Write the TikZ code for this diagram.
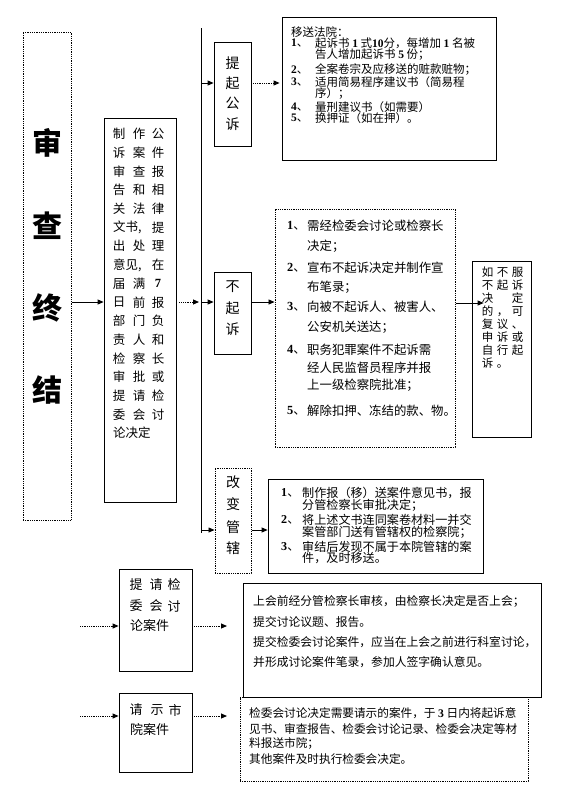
\documentclass[tikz,border=0pt]{standalone}
\usepackage{fontspec}
\setmainfont{Noto Sans CJK SC}
\newfontfamily\numfont{Liberation Serif}
\usetikzlibrary{arrows.meta}
\newcommand\NumB[1]{{\numfont\bfseries #1}}
\newcommand\fsz[1]{\fontsize{#1}{#1}\selectfont}
\tikzset{
  box/.style={draw, line width=0.8pt, inner sep=0pt, rectangle},
  dbox/.style={box, densely dotted, line width=1pt},
  tx/.style={anchor=west, inner sep=0pt},
  ch/.style={anchor=center, inner sep=0pt},
  rbch/.style={ch, font=\fsz{11.5}, text height=9.5pt, text depth=1.5pt},
  arr/.style={-{Triangle[length=6pt,width=5pt]}, line width=0.8pt},
  darr/.style={arr, densely dotted, line width=1pt},
}
\begin{document}
\begin{tikzpicture}[x=1pt,y=-1pt]
\fill[white] (0,0) rectangle (586,806);
\useasboundingbox (0,0) rectangle (586,806);

% ---------- boxes ----------
\node[dbox, minimum width=48pt,  minimum height=488pt] (L)   at (47,276) {};
\node[box,  minimum width=72pt,  minimum height=384pt] (M)   at (140,310) {};
\node[box,  minimum width=37pt,  minimum height=104pt] (TQ)  at (232.5,94) {};
\node[box,  minimum width=214pt, minimum height=143pt] (YS)  at (389,88.5) {};
\node[box,  minimum width=37pt,  minimum height=82pt]  (BQ)  at (232.5,313) {};
\node[dbox, minimum width=180pt, minimum height=238pt] (BQL) at (365,328) {};
\node[box,  minimum width=59pt,  minimum height=176pt] (RB)  at (501.5,349) {};
\node[dbox, minimum width=36pt,  minimum height=105pt] (GB)  at (233,520.5) {};
\node[box,  minimum width=215pt, minimum height=94pt]  (GBL) at (375.5,526) {};
\node[box,  minimum width=73pt,  minimum height=102pt] (TJ)  at (155.5,620) {};
\node[box,  minimum width=298pt, minimum height=114pt] (TJL) at (392,640) {};
\node[box,  minimum width=73pt,  minimum height=79pt]  (QS)  at (155.5,732.5) {};
\node[dbox, minimum width=288pt, minimum height=84pt]  (QSL) at (384,739) {};

% ---------- left title ----------
\foreach \y/\c [count=\i] in {143/审,226/查,308/终,390/结}
  \node[ch, font=\fsz{30}\bfseries] (Lt\i) at (47,\y) {\c};

% ---------- middle box text ----------
\foreach \k/\a/\b/\c in {0/制/作/公,1/诉/案/件,2/审/查/报,3/告/和/相,4/关/法/律,6/出/处/理,8/届/满/\NumB{7},9/日/前/报,10/部/门/负,11/责/人/和,12/检/察/长,13/审/批/或,14/提/请/检,15/委/会/讨}{
  \node[ch, font=\fsz{12.5}] (m\k-a) at (119,134+18.7*\k) {\a};
  \node[ch, font=\fsz{12.5}] (m\k-b) at (139,134+18.7*\k) {\b};
  \node[ch, font=\fsz{12.5}] (m\k-c) at (158,134+18.7*\k) {\c};
}
\node[tx, font=\fsz{12.5}] (m5-a)  at (113,134+18.7*5) {文书,};
\node[ch, font=\fsz{12.5}] (m5-c)  at (158,134+18.7*5) {提};
\node[tx, font=\fsz{12.5}] (m7-a)  at (113,134+18.7*7) {意见,};
\node[ch, font=\fsz{12.5}] (m7-c)  at (158,134+18.7*7) {在};
\node[tx, font=\fsz{12.5}] (m16-a) at (113,134+18.7*16) {论决定};

% ---------- short vertical boxes ----------
\foreach \y/\c [count=\i] in {63/提,83/起,103/公,124/诉}
  \node[ch, font=\fsz{14}] (TQ\i) at (232.5,\y) {\c};
\foreach \y/\c [count=\i] in {287/不,308/起,329/诉}
  \node[ch, font=\fsz{14}] (BQ\i) at (232.5,\y) {\c};
\foreach \y/\c [count=\i] in {482/改,504/变,527/管,548/辖}
  \node[ch, font=\fsz{14}] (GB\i) at (233,\y) {\c};

% ---------- 移送法院 ----------
\node[tx, font=\fsz{11.5}] (ys0) at (291,32) {移送法院：};
\foreach \y/\n [count=\i] in {43/1,70/2,82/3,107/4,118/5}
  \node[tx, font=\fsz{11.5}] (ysn\i) at (291,\y) {\NumB{\n}、};
\foreach \y/\t [count=\i] in {
  43/起诉书 \NumB{1} 式\NumB{10}分，每增加 \NumB{1} 名被,
  55/告人增加起诉书 \NumB{5} 份；,
  70/全案卷宗及应移送的赃款赃物；,
  82/适用简易程序建议书（简易程,
  94/序）；,
  107/量刑建议书（如需要）,
  118/换押证（如在押）。}
  \node[tx, font=\fsz{11.5}] (yst\i) at (315,\y) {\t};

% ---------- 不起诉 list ----------
\foreach \y/\n [count=\i] in {226/1,268/2,307/3,350/4,411/5}
  \node[tx, font=\fsz{12.4}] (bqn\i) at (287,\y) {\NumB{\n}、};
\foreach \y/\t [count=\i] in {
  226/需经检委会讨论或检察长,
  246/决定；,
  268/宣布不起诉决定并制作宣,
  287/布笔录；,
  307/向被不起诉人、被害人、,
  327/公安机关送达；,
  350/职务犯罪案件不起诉需,
  368/经人民监督员程序并报,
  385/上一级检察院批准；,
  411/解除扣押、冻结的款、物。}
  \node[tx, font=\fsz{12.4}] (bqt\i) at (307,\y) {\t};

% ---------- 如不服 ----------
\node[rbch] (rb0a) at (487.5,272) {如};
\node[rbch] (rb0b) at (502.5,272) {不};
\node[rbch] (rb0c) at (517.5,272) {服};
\node[rbch] (rb1a) at (487.5,285) {不};
\node[rbch] (rb1b) at (502.5,285) {起};
\node[rbch] (rb1c) at (517.5,285) {诉};
\node[rbch] (rb2a) at (487.5,298) {决};
\node[rbch] (rb2c) at (517.5,298) {定};
\node[rbch] (rb3a) at (487.5,311) {的};
\node[rbch] (rb3b) at (502.5,311) {，};
\node[rbch] (rb3c) at (517.5,311) {可};
\node[rbch] (rb4a) at (487.5,324) {复};
\node[rbch] (rb4b) at (502.5,324) {议};
\node[rbch] (rb4c) at (517.5,324) {、};
\node[rbch] (rb5a) at (487.5,337) {申};
\node[rbch] (rb5b) at (502.5,337) {诉};
\node[rbch] (rb5c) at (517.5,337) {或};
\node[rbch] (rb6a) at (487.5,350) {自};
\node[rbch] (rb6b) at (502.5,350) {行};
\node[rbch] (rb6c) at (517.5,350) {起};
\node[rbch] (rb7a) at (487.5,363) {诉};
\node[rbch] (rb7b) at (502.5,363) {。};

% ---------- 改变管辖 list ----------
\foreach \y/\n [count=\i] in {493/1,520/2,547/3}
  \node[tx, font=\fsz{12.1}] (gbn\i) at (281,\y) {\NumB{\n}、};
\foreach \y/\t [count=\i] in {
  493/制作报（移）送案件意见书，报,
  505/分管检察长审批决定；,
  520/将上述文书连同案卷材料一并交,
  532/案管部门送有管辖权的检察院；,
  547/审结后发现不属于本院管辖的案,
  558/件，及时移送。}
  \node[tx, font=\fsz{12.1}] (gbt\i) at (302,\y) {\t};

% ---------- 提请检委会讨论案件 ----------
\node[ch, font=\fsz{13}] (tj1) at (136,585) {提};
\node[ch, font=\fsz{13}] (tj2) at (156,585) {请};
\node[ch, font=\fsz{13}] (tj3) at (174,585) {检};
\node[ch, font=\fsz{13}] (tj4) at (136,606) {委};
\node[ch, font=\fsz{13}] (tj5) at (156,606) {会};
\node[ch, font=\fsz{13}] (tj6) at (174,606) {讨};
\node[tx, font=\fsz{13}] (tj7) at (130,626) {论案件};
\foreach \y/\t [count=\i] in {
  601/上会前经分管检察长审核，由检察长决定是否上会；,
  622/提交讨论议题、报告。,
  642/提交检委会讨论案件，应当在上会之前进行科室讨论，,
  662/并形成讨论案件笔录，参加人签字确认意见。}
  \node[tx, font=\fsz{11.8}] (tjt\i) at (253,\y) {\t};

% ---------- 请示市院案件 ----------
\node[ch, font=\fsz{13}] (qs1) at (136,710) {请};
\node[ch, font=\fsz{13}] (qs2) at (157,710) {示};
\node[ch, font=\fsz{13}] (qs3) at (175,710) {市};
\node[tx, font=\fsz{13}] (qs4) at (130,729) {院案件};
\foreach \y/\t [count=\i] in {
  713/检委会讨论决定需要请示的案件，于 \NumB{3} 日内将起诉意,
  729/见书、审查报告、检委会讨论记录、检委会决定等材,
  743/料报送市院；,
  759/其他案件及时执行检委会决定。}
  \node[tx, font=\fsz{11.65}] (qst\i) at (249,\y) {\t};

% ---------- connectors ----------
\coordinate (vtop) at (201,28);
\coordinate (vbot) at (201,533);
\coordinate (r83)  at (0,83);
\coordinate (r302) at (0,302);
\coordinate (r303) at (0,303);
\coordinate (r530) at (0,530);
\coordinate (r626) at (0,626);
\coordinate (r716) at (0,716);
\coordinate (s1) at (80,626);
\coordinate (e1) at (227,626);
\coordinate (s2) at (80,716);
\coordinate (e2) at (227,716);

\draw[line width=0.8pt] (vtop) -- (vbot);
\draw[arr]  (L.east |- r302) -- (M.west |- r302);
\draw[darr] ([xshift=3pt]M.east |- r302) -- ([xshift=-2pt]vbot |- r302);
\draw[arr]  (vbot |- r83) -- (TQ.west |- r83);
\draw[darr] (TQ.east |- r83) -- ([xshift=-2pt]YS.west |- r83);
\draw[arr]  (vbot |- r302) -- (BQ.west |- r302);
\draw[arr]  (BQ.east |- r302) -- (BQL.west |- r302);
\draw[arr]  (BQL.east |- r303) -- ([xshift=12pt]RB.west |- r303);
\draw[arr]  (vbot |- r530) -- (GB.west |- r530);
\draw[arr]  (GB.east |- r530) -- (GBL.west |- r530);
\draw[darr] (s1) -- (TJ.west |- r626);
\draw[darr] (TJ.east |- r626) -- (e1);
\draw[darr] (s2) -- (QS.west |- r716);
\draw[darr] (QS.east |- r716) -- (e2);
\end{tikzpicture}
\end{document}
